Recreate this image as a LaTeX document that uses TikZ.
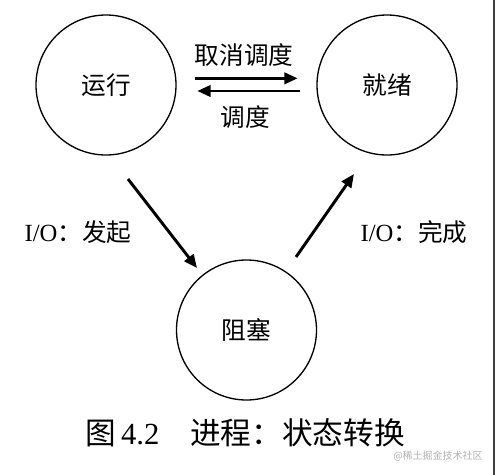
\documentclass[tikz,border=0pt]{standalone}
\usepackage{fontspec}
\setmainfont{Liberation Serif}
\newfontfamily\cjk{Noto Sans CJK SC}
\usetikzlibrary{arrows.meta}
\tikzset{
  state/.style={draw, circle, line width=1pt, minimum size=105pt, inner sep=0pt, font=\cjk\fontsize{18.5}{18.5}\selectfont},
  arr/.style={line width=2.2pt, -{Triangle[length=10pt,width=8.5pt]}},
  lbl/.style={inner sep=0pt, font=\fontsize{18.5}{18.5}\selectfont}
}
\begin{document}
\begin{tikzpicture}[x=0.75pt,y=-0.75pt]
    \useasboundingbox (0,0) rectangle (497,475);
    \fill[white] (0,0) rectangle (497,475);

    % States
    \node[state] (run) at (106,85) {运行};
    \node[state] (ready) at (387,85) {就绪};
    \node[state] (block) at (246.5,330) {阻塞};

    % Running <-> ready
    \draw[arr, shorten <=13.5pt, shorten >=14pt] ([yshift=5pt]run.east) -- ([yshift=5pt]ready.west);
    \draw[arr, shorten <=12.5pt, shorten >=15.5pt] ([yshift=-4.5pt]ready.west) -- ([yshift=-4.5pt]run.east);
    \node[lbl] (deschedule) at (244,55) {\cjk 取消调度};
    \node[lbl] (schedule) at (245,117) {\cjk 调度};

    % I/O transitions
    \draw[arr] ([shift={(22,94)}]run.center) -- ([shift={(-49.5,-62)}]block.center);
    \draw[arr] ([shift={(49.5,-73)}]block.center) -- ([shift={(-33,89)}]ready.center);
    \node[lbl] (ioinit) at (78,232) {I/O{\cjk ：发起}};
    \node[lbl] (iodone) at (414,232) {I/O{\cjk ：完成}};

    % Caption
    \node[inner sep=0pt, font=\fontsize{23}{23}\selectfont] (caption) at (245,433) {{\cjk 图}\,4.2\quad{\cjk 进程：状态转换}};
    \node[inner sep=0pt, text=black!30, font=\cjk\fontsize{7.5}{7.5}\selectfont] (mark) at (438,456) {@稀土掘金技术社区};

    % Right edge
    \draw[black!75, line width=1.5pt] (494,0) -- (494,475);
\end{tikzpicture}
\end{document}
